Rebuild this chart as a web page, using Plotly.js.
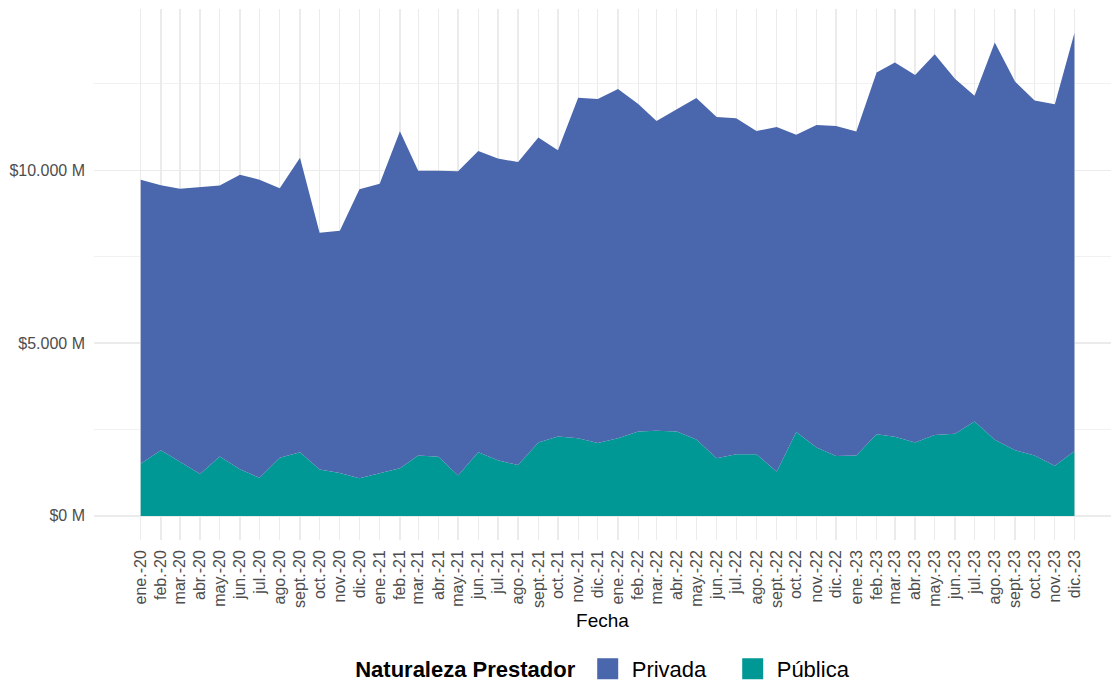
<!DOCTYPE html>
<html>
<head>
<meta charset="utf-8">
<script src="https://cdn.plot.ly/plotly-3.0.1.min.js"></script>
<style>html,body{margin:0;padding:0;background:#fff;}#chart{width:1111px;height:683px;}</style>
</head>
<body>
<div id="chart"></div>
<script>
const fechas = [
  '2020-01-01','2020-02-01','2020-03-01','2020-04-01','2020-05-01','2020-06-01','2020-07-01','2020-08-01','2020-09-01','2020-10-01','2020-11-01','2020-12-01',
  '2021-01-01','2021-02-01','2021-03-01','2021-04-01','2021-05-01','2021-06-01','2021-07-01','2021-08-01','2021-09-01','2021-10-01','2021-11-01','2021-12-01',
  '2022-01-01','2022-02-01','2022-03-01','2022-04-01','2022-05-01','2022-06-01','2022-07-01','2022-08-01','2022-09-01','2022-10-01','2022-11-01','2022-12-01',
  '2023-01-01','2023-02-01','2023-03-01','2023-04-01','2023-05-01','2023-06-01','2023-07-01','2023-08-01','2023-09-01','2023-10-01','2023-11-01','2023-12-01'
];
const etiquetasFecha = [
  'ene.-20','feb.-20','mar.-20','abr.-20','may.-20','jun.-20','jul.-20','ago.-20','sept.-20','oct.-20','nov.-20','dic.-20',
  'ene.-21','feb.-21','mar.-21','abr.-21','may.-21','jun.-21','jul.-21','ago.-21','sept.-21','oct.-21','nov.-21','dic.-21',
  'ene.-22','feb.-22','mar.-22','abr.-22','may.-22','jun.-22','jul.-22','ago.-22','sept.-22','oct.-22','nov.-22','dic.-22',
  'ene.-23','feb.-23','mar.-23','abr.-23','may.-23','jun.-23','jul.-23','ago.-23','sept.-23','oct.-23','nov.-23','dic.-23'
];
// Valores en millones de pesos
const publica = [
  1510,1900,1570,1210,1720,1350,1100,1680,1840,1340,1240,1090,
  1230,1380,1750,1710,1170,1840,1610,1470,2120,2300,2250,2110,
  2250,2440,2460,2440,2210,1670,1780,1780,1280,2430,1980,1730,
  1750,2360,2290,2120,2340,2380,2730,2200,1900,1750,1450,1870
];
const privada = [
  8220,7670,7900,8300,7840,8520,8630,7800,8520,6850,7010,8360,
  8380,9750,8240,8280,8800,8720,8730,8770,8830,8280,9850,9950,
  10100,9480,8970,9330,9880,9870,9730,9360,9970,8600,9330,9550,
  9370,10470,10830,10640,11020,10270,9430,11500,10670,10270,10460,12100
];
const yTickVals = [0, 5000, 10000];
const yTickText = ['$0 M', '$5.000 M', '$10.000 M'];
const series = ['Privada', 'Pública'];
const colores = {'Privada': '#4A67AD', 'Pública': '#009894'};

const traces = [
  {
    x: fechas, y: publica, name: 'Pública', type: 'scatter', mode: 'lines',
    stackgroup: 'uno', fillcolor: colores['Pública'],
    line: {width: 0, color: colores['Pública']}, showlegend: false, hoverinfo: 'skip'
  },
  {
    x: fechas, y: privada, name: 'Privada', type: 'scatter', mode: 'lines',
    stackgroup: 'uno', fillcolor: colores['Privada'],
    line: {width: 0, color: colores['Privada']}, showlegend: false, hoverinfo: 'skip'
  }
];
series.forEach(function(s) {
  traces.push({
    x: [fechas[0]], y: [null], name: s, type: 'scatter', mode: 'markers',
    marker: {symbol: 'square', size: 16, color: colores[s], line: {width: 5, color: colores[s]}},
    showlegend: true, hoverinfo: 'skip'
  });
});

const layout = {
  width: 1111, height: 683,
  margin: {l: 94, r: 0, t: 9, b: 143},
  paper_bgcolor: '#ffffff', plot_bgcolor: '#ffffff',
  font: {family: 'Liberation Sans, Arial, sans-serif', color: '#000000'},
  showlegend: true,
  xaxis: {
    type: 'date',
    range: ['2019-10-21 12:00', '2024-01-26'],
    tickmode: 'array', tickvals: fechas, ticktext: etiquetasFecha,
    tickangle: -90, tickfont: {size: 16, color: '#4D4D4D'},
    ticks: '', ticklabelstandoff: 6,
    showgrid: true, gridcolor: '#EBEBEB', gridwidth: 1.3,
    zeroline: false, showline: false,
    title: {text: 'Fecha', font: {size: 19, color: '#000000'}, standoff: 6}
  },
  yaxis: {
    range: [-698, 14668],
    tickmode: 'array', tickvals: yTickVals, ticktext: yTickText,
    tickfont: {size: 16, color: '#4D4D4D'},
    ticks: '', ticklabelstandoff: 8,
    showgrid: true, gridcolor: '#EBEBEB', gridwidth: 1.3,
    minor: {dtick: 2500, showgrid: true, gridcolor: '#F1F1F1', gridwidth: 1},
    zeroline: false, showline: false
  },
  legend: {
    orientation: 'h', x: 0.511, xanchor: 'center',
    yref: 'container', y: 0.0205, yanchor: 'middle',
    font: {size: 22, color: '#000000'},
    title: {text: '<b>Naturaleza Prestador</b>', side: 'left', font: {size: 22, color: '#000000'}},
    itemwidth: 38,
    entrywidth: 92, entrywidthmode: 'pixels',
    traceorder: 'normal', itemclick: false, itemdoubleclick: false
  }
};

Plotly.newPlot('chart', traces, layout, {displayModeBar: false, staticPlot: true});
</script>
</body>
</html>
